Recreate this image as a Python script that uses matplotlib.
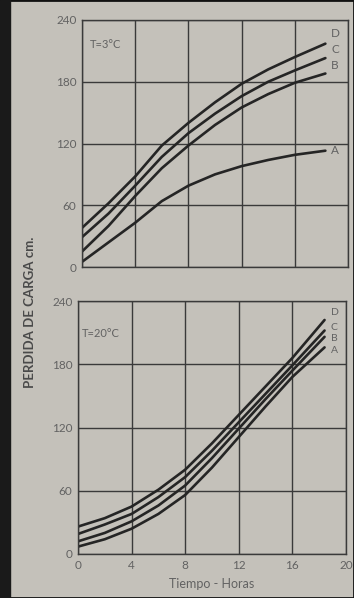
import matplotlib.pyplot as plt
from matplotlib.patches import Rectangle

# datos (perdida de carga en cm vs tiempo en horas)
horas_3 = [0, 2, 4, 6, 8, 10, 12, 14, 16, 18.3]
curva_A_3 = [5, 24, 43, 64, 79, 90, 98, 104, 109, 113]
curva_B_3 = [15, 40, 69, 96, 118, 138, 155, 168, 179, 188]
curva_C_3 = [29, 52, 79, 107, 130, 149, 166, 180, 191, 203]
curva_D_3 = [38, 62, 88, 118, 140, 160, 178, 192, 204, 217]

horas_20 = [0, 2, 4, 6, 8, 10, 12, 14, 16, 18.4]
curva_A_20 = [7, 14, 24, 38, 56, 82, 111, 140, 168, 196]
curva_B_20 = [12, 20, 31, 46, 65, 91, 119, 147, 174, 206]
curva_C_20 = [19, 28, 38, 54, 73, 98, 125, 152, 179, 212]
curva_D_20 = [26, 34, 45, 61, 80, 105, 132, 159, 186, 222]

etiquetas = ["A", "B", "C", "D"]
ticks_x = [0, 4, 8, 12, 16, 20]
ticks_y = [0, 60, 120, 180, 240]

papel = "#c4c1ba"
gris_texto = "#626262"
tinta = "#252525"

plt.rcParams["font.family"] = ["Lato", "DejaVu Sans"]

fig = plt.figure(figsize=(3.54, 5.98), dpi=100, facecolor=papel)

ax1 = fig.add_axes([82 / 354, 1 - 267 / 598, 266 / 354, 247 / 598])
ax2 = fig.add_axes([78 / 354, 1 - 554 / 598, 268 / 354, 253 / 598])


def preparar_ejes(ax, con_x):
    ax.set_facecolor(papel)
    ax.set_xlim(0, 20)
    ax.set_ylim(0, 240)
    ax.set_xticks(ticks_x)
    ax.set_yticks(ticks_y)
    ax.grid(True, color="#3a3a3a", linewidth=1.0)
    ax.set_axisbelow(True)
    for s in ax.spines.values():
        s.set_color("#3a3a3a")
        s.set_linewidth(1.0)
    ax.tick_params(length=0, labelsize=8.5, labelcolor=gris_texto, pad=4)
    if not con_x:
        ax.set_xticklabels([])


def dibujar(ax, horas, curvas, dy_etiquetas, tam):
    for curva, etiqueta, dy in zip(curvas, etiquetas, dy_etiquetas):
        ax.plot(horas, curva, color=tinta, linewidth=1.9, solid_capstyle="round")
        ax.text(horas[-1] + 0.45, curva[-1] + dy, etiqueta, fontsize=tam,
                color=gris_texto, va="center", ha="left")


preparar_ejes(ax1, False)
dibujar(ax1, horas_3, [curva_A_3, curva_B_3, curva_C_3, curva_D_3], [0, 8, 8, 10], 8.5)
ax1.text(0.6, 216, "T=3°C", fontsize=8, color=gris_texto, va="center")

preparar_ejes(ax2, True)
dibujar(ax2, horas_20, [curva_A_20, curva_B_20, curva_C_20, curva_D_20], [-3, -2, 3, 7], 7.5)
ax2.text(0.3, 209, "T=20°C", fontsize=8, color=gris_texto, va="center")
ax2.set_xlabel("Tiempo - Horas", fontsize=9, color=gris_texto, labelpad=5)

fig.text(30 / 354, 1 - 312 / 598, "PERDIDA DE CARGA cm.", rotation=90,
         fontsize=9.5, color="#4a4a4a", fontweight="bold", ha="center", va="center")

# marco negro de la foto
fig.patches.append(Rectangle((0, 0), 1, 1, transform=fig.transFigure,
                             fill=False, edgecolor="#111111", linewidth=2))
fig.patches.append(Rectangle((0, 0), 10 / 354, 1, transform=fig.transFigure,
                             color="#1a1a1a"))

fig.savefig("out.png", dpi=100, facecolor=papel)
